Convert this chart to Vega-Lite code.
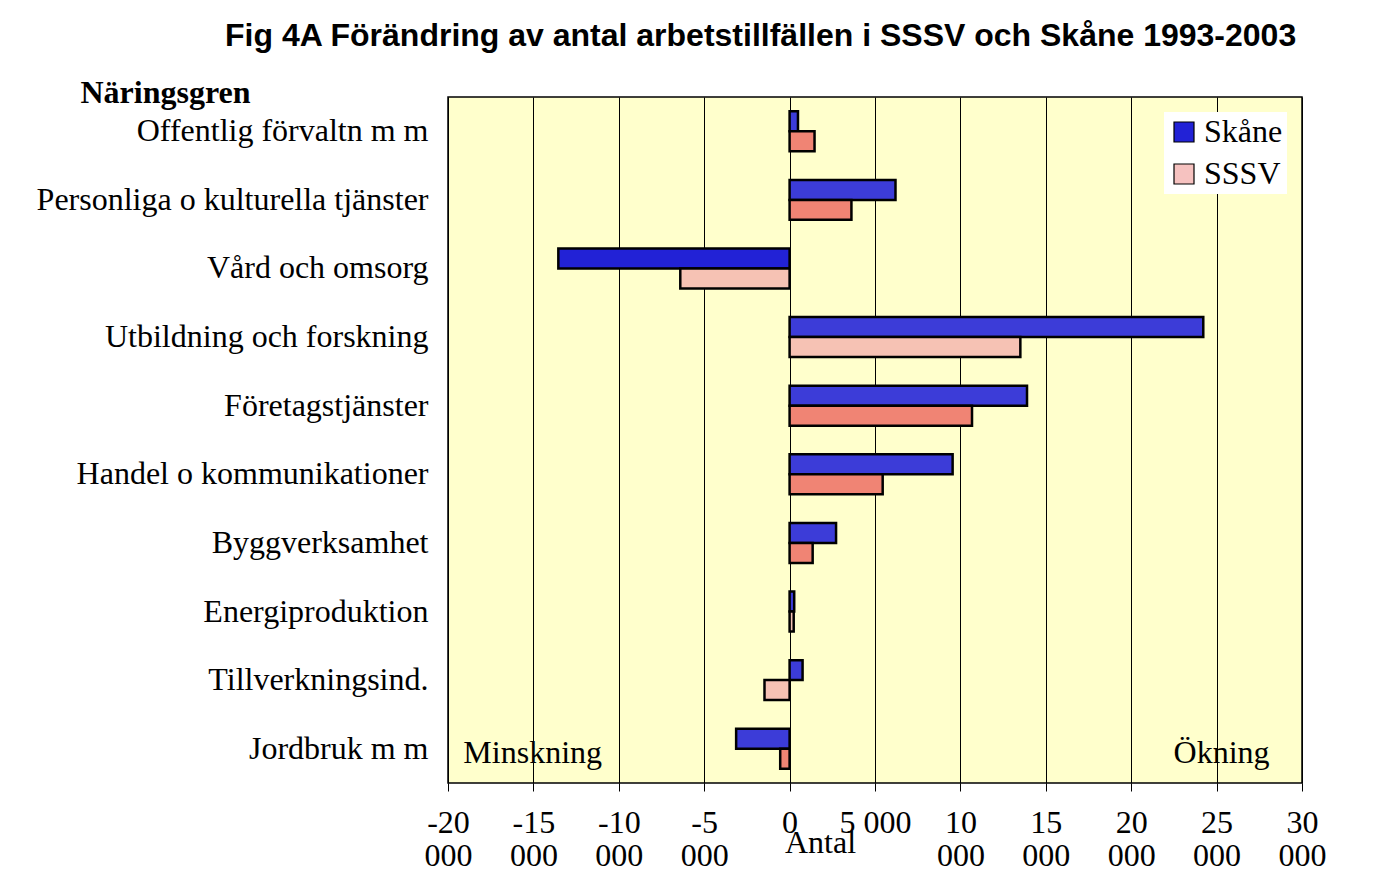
{
  "$schema": "https://vega.github.io/schema/vega-lite/v6.json",
  "autosize": {"type": "none"},
  "width": 854,
  "height": 686,
  "padding": {"left": 448, "top": 97, "right": 81, "bottom": 86},
  "background": "white",
  "title": {
    "text": "Fig 4A Förändring av antal arbetstillfällen i SSSV och Skåne 1993-2003",
    "font": "Liberation Sans",
    "fontSize": 32,
    "fontWeight": "bold",
    "color": "black",
    "anchor": "start",
    "frame": "group",
    "dx": -223,
    "offset": 23
  },
  "config": {
    "view": {"fill": "#FFFFCC", "stroke": "black", "strokeWidth": 1.5},
    "font": "Liberation Serif"
  },
  "data": {
    "values": [
      {"kat": "Offentlig förvaltn m m", "serie": "Skåne", "antal": 490},
      {"kat": "Offentlig förvaltn m m", "serie": "SSSV", "antal": 1460},
      {"kat": "Personliga o kulturella tjänster", "serie": "Skåne", "antal": 6200},
      {"kat": "Personliga o kulturella tjänster", "serie": "SSSV", "antal": 3620},
      {"kat": "Vård och omsorg", "serie": "Skåne", "antal": -13540},
      {"kat": "Vård och omsorg", "serie": "SSSV", "antal": -6400},
      {"kat": "Utbildning och forskning", "serie": "Skåne", "antal": 24220},
      {"kat": "Utbildning och forskning", "serie": "SSSV", "antal": 13510},
      {"kat": "Företagstjänster", "serie": "Skåne", "antal": 13900},
      {"kat": "Företagstjänster", "serie": "SSSV", "antal": 10680},
      {"kat": "Handel o kommunikationer", "serie": "Skåne", "antal": 9545},
      {"kat": "Handel o kommunikationer", "serie": "SSSV", "antal": 5450},
      {"kat": "Byggverksamhet", "serie": "Skåne", "antal": 2720},
      {"kat": "Byggverksamhet", "serie": "SSSV", "antal": 1350},
      {"kat": "Energiproduktion", "serie": "Skåne", "antal": 270},
      {"kat": "Energiproduktion", "serie": "SSSV", "antal": 240},
      {"kat": "Tillverkningsind.", "serie": "Skåne", "antal": 760},
      {"kat": "Tillverkningsind.", "serie": "SSSV", "antal": -1470},
      {"kat": "Jordbruk m m", "serie": "Skåne", "antal": -3130},
      {"kat": "Jordbruk m m", "serie": "SSSV", "antal": -550}
    ]
  },
  "encoding": {
    "y": {
      "field": "kat",
      "type": "nominal",
      "sort": null,
      "scale": {"paddingInner": 0.417, "paddingOuter": 0.208},
      "axis": {
        "title": "Näringsgren",
        "titleX": -368,
        "titleY": 5,
        "titleAngle": 0,
        "titleAlign": "left",
        "titleBaseline": "alphabetic",
        "titleFont": "Liberation Serif",
        "titleFontSize": 32,
        "titleFontWeight": "bold",
        "titleColor": "black",
        "labelFont": "Liberation Serif",
        "labelFontSize": 32,
        "labelColor": "black",
        "labelLimit": 600,
        "ticks": false,
        "domain": false,
        "labelPadding": 20
      }
    }
  },
  "layer": [
    {
      "mark": {"type": "bar", "stroke": "black", "strokeWidth": 2.5},
      "encoding": {
        "x": {
          "field": "antal",
          "type": "quantitative",
          "scale": {"domain": [-20000, 30000], "nice": false},
          "axis": {
            "values": [-20000, -15000, -10000, -5000, 0, 5000, 10000, 15000, 20000, 25000, 30000],
            "grid": true,
            "gridColor": "black",
            "gridWidth": 1,
            "gridOpacity": 1,
            "domain": false,
            "ticks": true,
            "tickColor": "black",
            "tickSize": 8,
            "labelFont": "Liberation Serif",
            "labelFontSize": 32,
            "labelColor": "black",
            "labelLineHeight": 33,
            "labelPadding": 16,
            "labelFlush": false,
            "labelOverlap": false,
            "labelExpr": "datum.value == 0 ? '0' : datum.value == 5000 ? '5 000' : ['' + (datum.value / 1000), '000']",
            "title": "Antal",
            "titleFont": "Liberation Serif",
            "titleFontSize": 32,
            "titleFontWeight": "normal",
            "titleColor": "black",
            "titleX": 372,
            "titleY": 69,
            "titleBaseline": "alphabetic"
          }
        },
        "yOffset": {"field": "serie", "type": "nominal", "sort": ["Skåne", "SSSV"], "scale": {"paddingInner": 0}},
        "color": {
          "field": "serie",
          "type": "nominal",
          "scale": {"domain": ["Skåne", "SSSV"], "range": ["#2222D6", "#F6C2C0"]},
          "condition": [
            {"test": "datum.serie === 'SSSV' && indexof(['Vård och omsorg', 'Utbildning och forskning', 'Energiproduktion', 'Tillverkningsind.'], datum.kat) < 0", "value": "#F08474"},
            {"test": "datum.serie === 'SSSV'", "value": "#F6C2B4"},
            {"test": "datum.kat !== 'Vård och omsorg'", "value": "#3C3CD8"}
          ],
          "legend": {
            "title": null,
            "orient": "top-right",
            "offset": 15,
            "fillColor": "white",
            "padding": 4,
            "labelFont": "Liberation Serif",
            "labelFontSize": 32,
            "labelColor": "black",
            "labelOffset": 4,
            "symbolType": "square",
            "symbolSize": 400,
            "symbolStrokeColor": "black",
            "symbolStrokeWidth": 1.2,
            "rowPadding": 10
          }
        }
      }
    },
    {
      "mark": {"type": "rule", "color": "#8a8a8a", "strokeWidth": 1.5},
      "encoding": {"x": {"datum": 0}}
    },
    {
      "data": {"values": [{"t": "Minskning", "antal": -19100, "kat": "Jordbruk m m"}]},
      "mark": {"type": "text", "align": "left", "baseline": "alphabetic", "dy": 14, "font": "Liberation Serif", "fontSize": 32, "color": "black"},
      "encoding": {"x": {"field": "antal", "type": "quantitative"}, "text": {"field": "t"}}
    },
    {
      "data": {"values": [{"t": "Ökning", "antal": 28100, "kat": "Jordbruk m m"}]},
      "mark": {"type": "text", "align": "right", "baseline": "alphabetic", "dy": 14, "font": "Liberation Serif", "fontSize": 32, "color": "black"},
      "encoding": {"x": {"field": "antal", "type": "quantitative"}, "text": {"field": "t"}}
    }
  ]
}
